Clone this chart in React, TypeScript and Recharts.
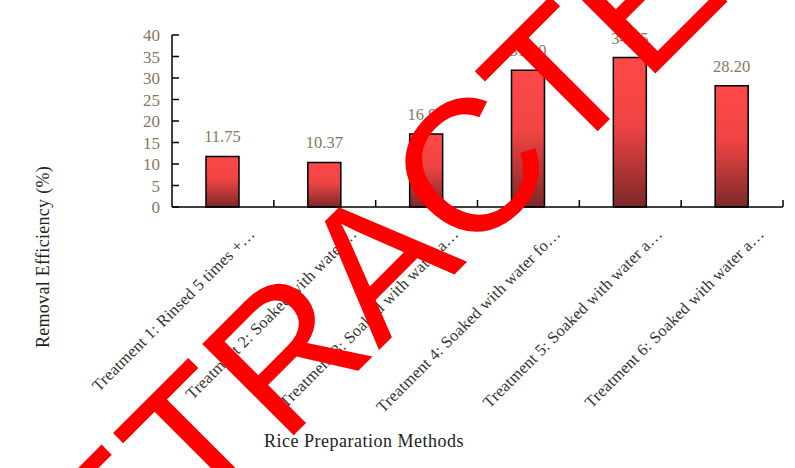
import { Bar, BarChart, Label, LabelList, XAxis, YAxis } from 'recharts';

const treatments = [
  'Treatment 1: Rinsed 5 times +…',
  'Treatment 2: Soaked with water…',
  'Treatment 3: Soaked with water a…',
  'Treatment 4: Soaked with water fo…',
  'Treatment 5: Soaked with water a…',
  'Treatment 6: Soaked with water a…',
];
const removalEfficiency = [11.75, 10.37, 16.95, 31.8, 34.75, 28.2];
const yTicks = [0, 5, 10, 15, 20, 25, 30, 35, 40];

const rows = treatments.map((name, i) => ({ name, value: removalEfficiency[i] }));

const serif = '"Liberation Serif", "Times New Roman", serif';
const tickColor = '#8a7660';

function TreatmentTick(props: any) {
  const { x, y, payload, width, visibleTicksCount } = props;
  const half = width / visibleTicksCount / 2;
  return (
    <g>
      <line x1={x + half} y1={y} x2={x + half} y2={y - 7} stroke="#000" strokeWidth={1.5} />
      <text
        transform={`translate(${x + 33},${y + 28}) rotate(-45)`}
        textAnchor="end"
        fill="#333"
        fontSize={16.5}
        letterSpacing={0.2}
        fontFamily={serif}
      >
        {payload.value}
      </text>
    </g>
  );
}

function Watermark() {
  return (
    <svg width={795} height={468} style={{ position: 'absolute', left: 0, top: 0, pointerEvents: 'none' }}>
      <text
        transform="translate(423,306) rotate(-45)"
        textAnchor="middle"
        fill="#ff0000"
        fontSize={188}
        fontFamily='"Liberation Sans", Arial, sans-serif'
      >
        RETRACTED
      </text>
    </svg>
  );
}

export default function App() {
  return (
    <div style={{ position: 'absolute', left: 0, top: 0, width: 795, height: 468, background: '#fff', overflow: 'hidden' }}>
      <BarChart width={795} height={468} data={rows} margin={{ top: 35, right: 12, bottom: 21, left: 0 }}>
        <defs>
          <linearGradient id="barFill" x1="0" y1="0" x2="0" y2="1">
            <stop offset="0%" stopColor="#ff4848" />
            <stop offset="45%" stopColor="#f04444" />
            <stop offset="100%" stopColor="#7c2828" />
          </linearGradient>
        </defs>
        <XAxis
          dataKey="name"
          height={240}
          interval={0}
          tickLine={false}
          tickSize={0}
          tickMargin={0}
          axisLine={{ stroke: '#000', strokeWidth: 1.5 }}
          tick={<TreatmentTick />}
        >
          <Label
            content={() => (
              <text x={364} y={447} textAnchor="middle" fontSize={18} letterSpacing={0.5} fontFamily={serif} fill="#222">
                Rice Preparation Methods
              </text>
            )}
          />
        </XAxis>
        <YAxis
          width={172}
          domain={[0, 40]}
          ticks={yTicks}
          interval={0}
          tickSize={-7}
          tickMargin={19}
          axisLine={{ stroke: '#000', strokeWidth: 1.5 }}
          tickLine={{ stroke: '#000', strokeWidth: 1.5 }}
          tick={{ fill: tickColor, fontSize: 17, fontFamily: serif }}
        >
          <Label
            content={() => (
              <text
                transform="translate(49,257) rotate(-90)"
                textAnchor="middle"
                fontSize={18}
                letterSpacing={0.3}
                fontFamily={serif}
                fill="#222"
              >
                Removal Efficiency (%)
              </text>
            )}
          />
        </YAxis>
        <Bar dataKey="value" barSize={33} fill="url(#barFill)" stroke="#000" strokeWidth={1.5} isAnimationActive={false}>
          <LabelList
            dataKey="value"
            position="top"
            offset={14}
            formatter={(v: any) => Number(v).toFixed(2)}
            fill={tickColor}
            fontSize={16.5}
            fontFamily={serif}
          />
        </Bar>
      </BarChart>
      <Watermark />
    </div>
  );
}
